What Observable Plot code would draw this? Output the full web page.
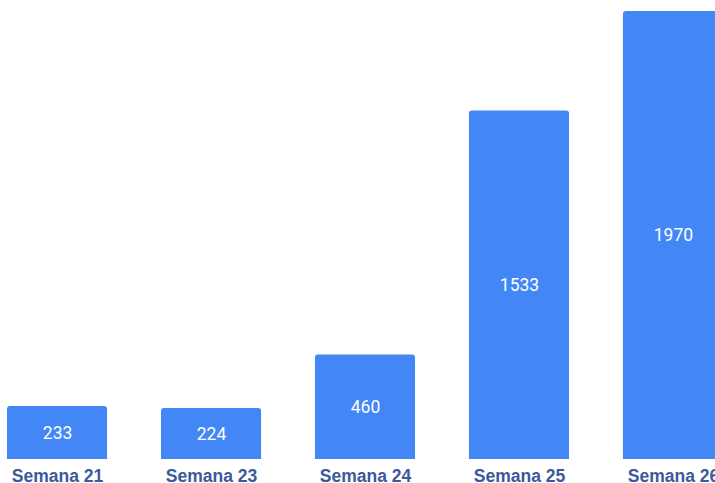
<!DOCTYPE html>
<html>
<head>
<meta charset="utf-8">
<script src="https://cdn.jsdelivr.net/npm/d3@7"></script>
<script src="https://cdn.jsdelivr.net/npm/@observablehq/plot@0.6"></script>
<style>
  html, body { margin: 0; padding: 0; background: #fff; overflow: hidden; }
  #chart svg { overflow: hidden; }
</style>
</head>
<body>
<div id="chart"></div>
<script>
const weeks = ["Semana 21", "Semana 23", "Semana 24", "Semana 25", "Semana 26"];
const counts = [233, 224, 460, 1533, 1970];

const data = weeks.map((w, i) => ({week: w, count: counts[i]}));

const chart = Plot.plot({
  width: 715,
  height: 483,
  marginTop: 11,
  marginBottom: 24,
  marginLeft: 0,
  marginRight: 0,
  x: {domain: weeks, range: [7, 723], paddingInner: 0.35, paddingOuter: 0, align: 0.5, round: false},
  y: {domain: [0, 1970], axis: null},
  style: {background: "#fff"},
  marks: [
    Plot.barY(data, {x: "week", y: "count", fill: "#4387f6", rx: 3, insetBottom: -6, clip: true}),
    Plot.text(data, {
      x: "week",
      y: d => d.count / 2,
      text: d => String(d.count),
      fill: "#fff",
      fontSize: 17.5,
      fontFamily: "Roboto, sans-serif"
    }),
    Plot.axisX({
      tickSize: 0,
      tickPadding: 10,
      fontSize: 17.5,
      fontWeight: "bold",
      fontFamily: "'Liberation Sans', Arial, sans-serif",
      color: "#3a5a9b",
      label: null
    })
  ]
});
document.getElementById("chart").appendChild(chart);
</script>
</body>
</html>
